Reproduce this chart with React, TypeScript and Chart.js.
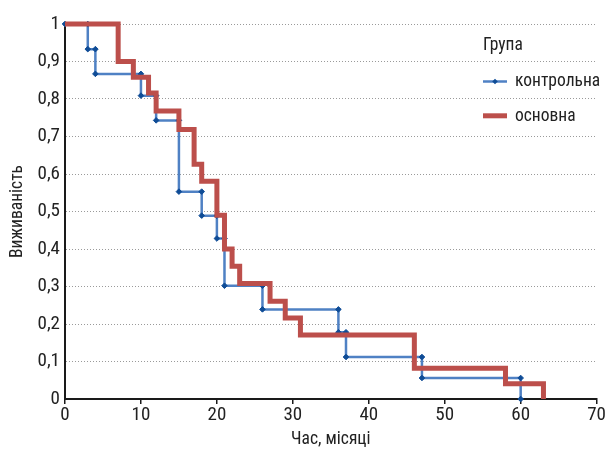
import React, { useEffect, useRef } from 'react';
import { Chart, registerables } from 'chart.js';

Chart.register(...registerables);

const FONT = "'Liberation Sans Narrow', 'Arial Narrow', 'Roboto Condensed', 'DejaVu Sans Condensed', sans-serif";

// Tick values
const xTickValues = [0, 10, 20, 30, 40, 50, 60, 70];
const yTickValues = [0, 0.1, 0.2, 0.3, 0.4, 0.5, 0.6, 0.7, 0.8, 0.9, 1];

// Group labels
const legendTitle = 'Група';
const controlLabel = 'контрольна';
const mainLabel = 'основна';
const xTitle = 'Час, місяці';
const yTitle = 'Виживаність';

// Kaplan–Meier: event times (months) and survival after each time
const controlTimes = [0, 3, 4, 10, 12, 15, 18, 20, 21, 26, 36, 37, 47, 60];
const controlSurvival = [1, 0.933, 0.867, 0.809, 0.743, 0.553, 0.489, 0.428, 0.302, 0.239, 0.178, 0.112, 0.056, 0];

const mainTimes = [0, 7, 9, 11, 12, 15, 17, 18, 20, 21, 22, 23, 27, 29, 31, 46, 58, 63];
const mainSurvival = [1, 0.9, 0.858, 0.816, 0.768, 0.719, 0.626, 0.581, 0.49, 0.4, 0.354, 0.308, 0.261, 0.216, 0.171, 0.082, 0.041, 0];

function toSteps(times: number[], surv: number[]) {
  const pts: { x: number; y: number }[] = [{ x: times[0], y: surv[0] }];
  for (let i = 1; i < times.length; i++) {
    pts.push({ x: times[i], y: surv[i - 1] });
    pts.push({ x: times[i], y: surv[i] });
  }
  return pts;
}

const fmtY = (v: number) => (v === 0 ? '0' : v === 1 ? '1' : v.toFixed(1).replace('.', ','));

const TEXT_SIZE = 17.5;

const legendPlugin = {
  id: 'insideLegend',
  afterDraw(chart: any) {
    const ctx = chart.ctx as CanvasRenderingContext2D;
    ctx.save();
    ctx.font = `${TEXT_SIZE}px ${FONT}`;
    ctx.fillStyle = '#222';
    ctx.textBaseline = 'alphabetic';
    ctx.textAlign = 'left';
    ctx.fillText(legendTitle, 483, 50);
    const rows = [
      { lineY: 81.5, textY: 85.7 },
      { lineY: 115.8, textY: 121.2 },
    ];
    chart.data.datasets.forEach((ds: any, i: number) => {
      const r = rows[i];
      if (!r) return;
      ctx.beginPath();
      ctx.strokeStyle = ds.borderColor;
      ctx.lineWidth = ds.borderWidth;
      ctx.lineCap = 'butt';
      ctx.moveTo(483, r.lineY);
      ctx.lineTo(507, r.lineY);
      ctx.stroke();
      if (ds.pointRadius > 0) {
        const s = ds.pointRadius;
        ctx.beginPath();
        ctx.fillStyle = ds.pointBackgroundColor;
        ctx.moveTo(495, r.lineY - s);
        ctx.lineTo(495 + s, r.lineY);
        ctx.lineTo(495, r.lineY + s);
        ctx.lineTo(495 - s, r.lineY);
        ctx.closePath();
        ctx.fill();
      }
      ctx.fillStyle = '#222';
      ctx.fillText(ds.label, 515, r.textY);
    });
    ctx.restore();
  },
};

export default function App() {
  const ref = useRef<HTMLCanvasElement>(null);

  useEffect(() => {
    if (!ref.current) return;
    const chart = new Chart(ref.current, {
      type: 'line',
      data: {
        datasets: [
          {
            label: controlLabel,
            data: toSteps(controlTimes, controlSurvival),
            borderColor: '#4f81c4',
            borderWidth: 2.5,
            pointRadius: 2.8,
            pointStyle: 'rectRot',
            pointBackgroundColor: '#0f4c96',
            pointBorderColor: '#0f4c96',
            pointBorderWidth: 1,
            tension: 0,
            order: 1,
            clip: false,
          } as any,
          {
            label: mainLabel,
            data: toSteps(mainTimes, mainSurvival),
            borderColor: '#bc4f4b',
            borderWidth: 5,
            pointRadius: 0,
            borderCapStyle: 'butt',
            borderJoinStyle: 'miter',
            tension: 0,
            order: 0,
            clip: false,
          } as any,
        ],
      },
      options: {
        responsive: false,
        animation: false,
        layout: { padding: { top: 24, right: 9, left: 0, bottom: 0 } },
        plugins: { legend: { display: false }, tooltip: { enabled: false } },
        scales: {
          x: {
            type: 'linear',
            min: 0,
            max: 70,
            afterBuildTicks: (s: any) => {
              s.ticks = xTickValues.map((v) => ({ value: v }));
            },
            afterFit: (s: any) => {
              s.height = 50;
            },
            border: { display: true, color: '#1a1a1a', width: 2 },
            grid: { drawOnChartArea: false, drawTicks: true, tickLength: 5, color: '#1a1a1a', lineWidth: 1.5 },
            ticks: { font: { family: FONT, size: 19 }, color: '#222', padding: 0, maxRotation: 0, autoSkip: false },
            title: { display: true, text: xTitle, font: { family: FONT, size: TEXT_SIZE, lineHeight: 1 }, color: '#222', padding: { top: 0, bottom: 0.5 } },
          },
          y: {
            min: 0,
            max: 1,
            afterBuildTicks: (s: any) => {
              s.ticks = yTickValues.map((v) => ({ value: v }));
            },
            afterFit: (s: any) => {
              s.width = 65;
            },
            border: { display: true, color: '#1a1a1a', width: 2, dash: [1, 2] },
            grid: {
              drawTicks: false,
              color: (c: any) => (c.tick && c.tick.value === 0 ? 'rgba(0,0,0,0)' : '#9a9a9a'),
              lineWidth: 1,
            },
            ticks: { font: { family: FONT, size: 19 }, color: '#222', padding: 5, callback: (v: any) => fmtY(Number(v)) },
            title: { display: true, text: yTitle, font: { family: FONT, size: TEXT_SIZE, lineHeight: 1 }, color: '#222', padding: { top: 9, bottom: 0 } },
          },
        },
      },
      plugins: [legendPlugin],
    });
    return () => chart.destroy();
  }, []);

  return (
    <div style={{ position: 'fixed', left: 0, top: 0, width: 606, height: 449, background: '#fff' }}>
      <canvas ref={ref} width={606} height={449} />
    </div>
  );
}
